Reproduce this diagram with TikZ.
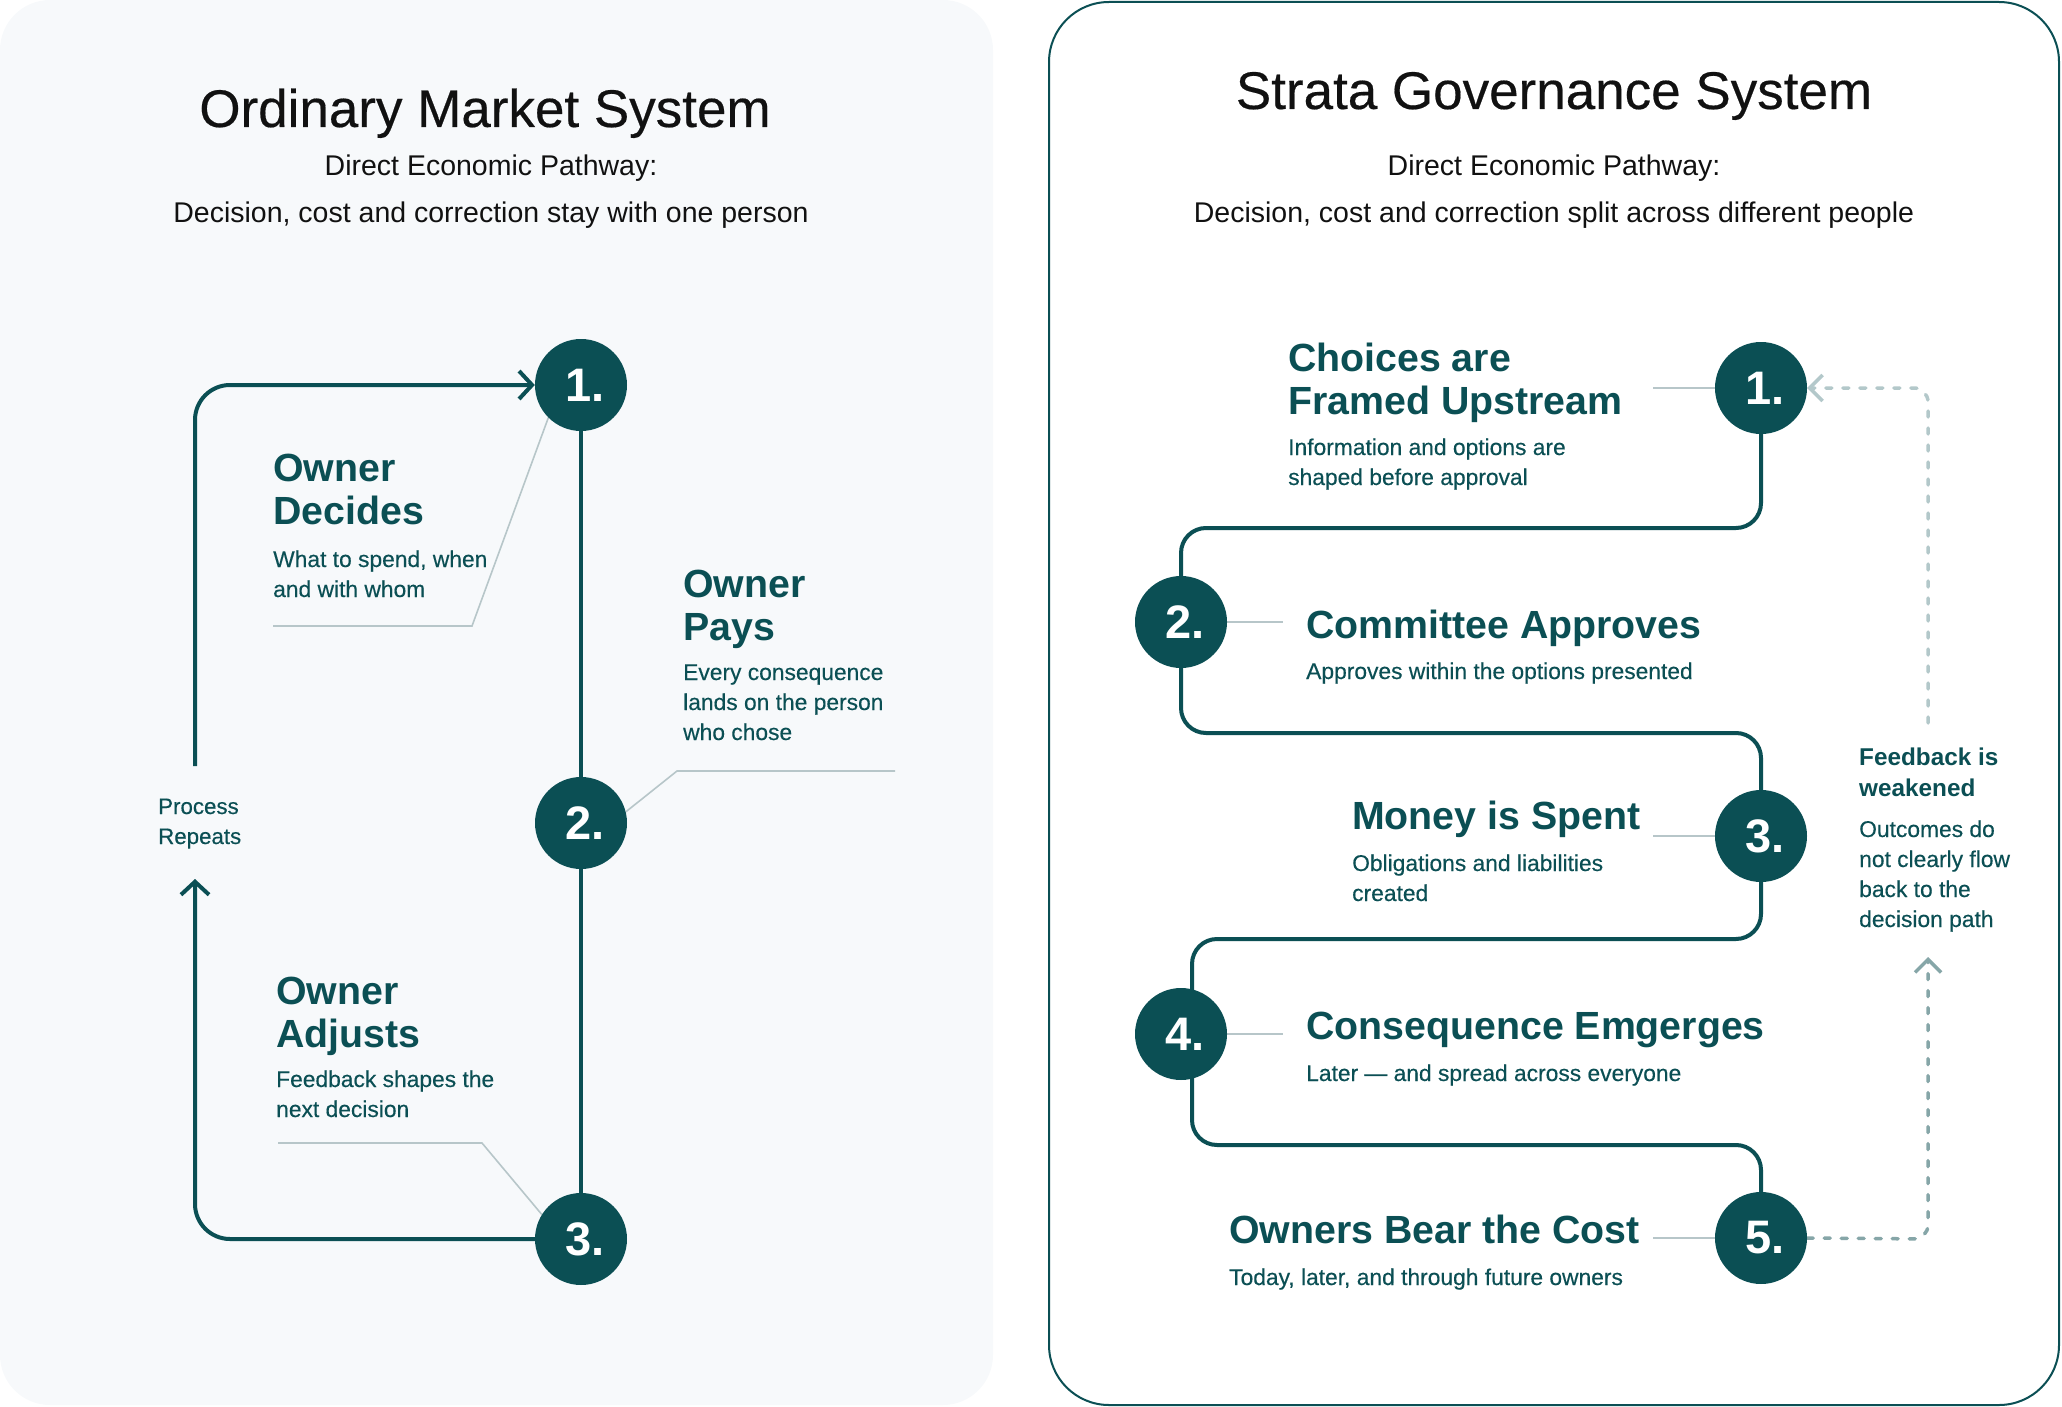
\documentclass[tikz,border=0pt]{standalone}
\usepackage{fontspec}
\setmainfont{Liberation Sans}
\newfontfamily\medfont[FakeBold=0.35]{Liberation Sans}
\usetikzlibrary{arrows.meta,calc}
\definecolor{tdark}{HTML}{0B4F54}
\definecolor{leadgray}{HTML}{B7C6C9}
\definecolor{dashlight}{HTML}{B3C8CA}
\definecolor{dashdark}{HTML}{86A6A8}
\definecolor{panelbg}{HTML}{F7F9FB}
\definecolor{titleblack}{HTML}{111111}
\pgfdeclarelayer{back}
\pgfdeclarelayer{lines}
\pgfsetlayers{back,lines,main}
\newcommand\mylines[1]{\parbox[t]{700pt}{\raggedright #1}}
\tikzset{
  num/.style={circle, fill=tdark, minimum size=92pt, inner sep=0pt, text=white,
    font=\fontsize{47}{47}\selectfont\bfseries},
  head/.style={anchor=base west, inner sep=0pt, text=tdark,
    font=\fontsize{39.3}{43}\selectfont\bfseries},
  body/.style={anchor=base west, inner sep=0pt, text=tdark,
    font=\medfont\fontsize{22.8}{30}\selectfont},
  fbhead/.style={anchor=base west, inner sep=0pt, text=tdark,
    font=\fontsize{24.3}{31}\selectfont\bfseries},
  titlef/.style={anchor=base, inner sep=0pt, text=titleblack,
    font=\medfont\fontsize{53}{60}\selectfont},
  subf/.style={anchor=base, inner sep=0pt, text=titleblack,
    font=\fontsize{28.5}{34}\selectfont},
  flow/.style={draw=tdark, line width=4pt},
  leader/.style={draw=leadgray, line width=1.6pt},
  arr/.style={-{Straight Barb[length=13pt,width=28pt]}},
  dashfb/.style={line width=3.5pt, dash pattern=on 6pt off 11pt, line cap=round,
    -{Straight Barb[length=13pt,width=26pt]}},
}
\newcommand\numtxt[1]{\hspace*{8pt}#1}
\begin{document}
\begin{tikzpicture}[x=1pt,y=-1pt]
\useasboundingbox (0,0) rectangle (2062,1407);
\begin{pgfonlayer}{back}
  \fill[panelbg, rounded corners=50pt] (0,0) rectangle (993,1405);
  \draw[tdark, line width=2pt, fill=white, rounded corners=60pt] (1049,2) rectangle (2059,1405);
\end{pgfonlayer}

% titles
\node[titlef] (tL) at (485,127) {Ordinary Market System};
\node[subf] (sL1) at (491,176) {Direct Economic Pathway:};
\node[subf] (sL2) at (491,223) {Decision, cost and correction stay with one person};
\node[titlef] (tR) at (1554,109) {Strata Governance System};
\node[subf] (sR1) at (1554,176) {Direct Economic Pathway:};
\node[subf] (sR2) at (1554,223) {Decision, cost and correction split across different people};

% left circles
\node[num] (c1) at (581,385) {\numtxt{1.}};
\node[num] (c2) at (581,823) {\numtxt{2.}};
\node[num] (c3) at (581,1239) {\numtxt{3.}};

% left texts
\node[head] (hDec) at (273,481) {\mylines{Owner\\Decides}};
\node[body] (bDec) at (273,567) {\mylines{What to spend, when\\and with whom}};
\node[head] (hPay) at (683,597) {\mylines{Owner\\Pays}};
\node[body] (bPay) at (683,680) {\mylines{Every consequence\\lands on the person\\who chose}};
\node[head] (hAdj) at (276,1004) {\mylines{Owner\\Adjusts}};
\node[body] (bAdj) at (276,1087) {\mylines{Feedback shapes the\\next decision}};
\node[body, font=\medfont\fontsize{22.3}{30}\selectfont] (proc) at (158,814) {\mylines{Process\\Repeats}};

% right circles
\node[num] (r1) at (1761,388) {\numtxt{1.}};
\node[num] (r2) at (1181,622) {\numtxt{2.}};
\node[num] (r3) at (1761,836) {\numtxt{3.}};
\node[num] (r4) at (1181,1034) {\numtxt{4.}};
\node[num] (r5) at (1761,1238) {\numtxt{5.}};

% right texts
\node[head] (hR1) at (1288,371) {\mylines{Choices are\\Framed Upstream}};
\node[body] (bR1) at (1288,455) {\mylines{Information and options are\\shaped before approval}};
\node[head] (hR2) at (1306,638) {Committee Approves};
\node[body] (bR2) at (1306,679) {Approves within the options presented};
\node[head] (hR3) at (1352,829) {Money is Spent};
\node[body] (bR3) at (1352,871) {\mylines{Obligations and liabilities\\created}};
\node[head] (hR4) at (1306,1039) {Consequence Emgerges};
\node[body] (bR4) at (1306,1081) {Later — and spread across everyone};
\node[head] (hR5) at (1229,1243) {Owners Bear the Cost};
\node[body] (bR5) at (1229,1285) {Today, later, and through future owners};
\node[fbhead] (hFB) at (1859,765) {\mylines{Feedback is\\weakened}};
\node[body] (bFB) at (1859,837) {\mylines{Outcomes do\\not clearly flow\\back to the\\decision path}};

% free-end coordinates
\coordinate (loopLow) at (195,879);
\coordinate (loopHigh) at (195,766);
\coordinate (ldDec) at (273,626);
\coordinate (ldPay) at (895,771);
\coordinate (ldAdj) at (278,1143);
\coordinate (ldR1) at (1653,388);
\coordinate (ldR2) at (1283,622);
\coordinate (ldR3) at (1653,836);
\coordinate (ldR4) at (1283,1034);
\coordinate (ldR5) at (1653,1238);
\coordinate (fbLow) at (1928,957);
\coordinate (fbHigh) at (1928,723);

\begin{pgfonlayer}{lines}
  % left flow
  \draw[flow] (c1) -- (c2);
  \draw[flow] (c2) -- (c3);
  \draw[flow, arr, rounded corners=35pt] (c3.west) -- (195,1239) -- (loopLow);
  \draw[flow, arr, rounded corners=35pt] (loopHigh) -- (195,385) -- (c1.west);
  % left leaders
  \draw[leader] (c1.south west) -- (472,626) -- (ldDec);
  \draw[leader] (c2.14) -- (677,771) -- (ldPay);
  \draw[leader] (c3.148) -- (482,1143) -- (ldAdj);
  % right flow
  \draw[flow, rounded corners=25pt] (r1.south) -- (1761,528) -- (1181,528) -- (r2.north);
  \draw[flow, rounded corners=25pt] (r2.south) -- (1181,733) -- (1761,733) -- (r3.north);
  \draw[flow, rounded corners=25pt] (r3.south) -- (1761,939) -- (1192,939) -- ([xshift=11pt]r4.center);
  \draw[flow, rounded corners=25pt] ([xshift=11pt]r4.center) -- (1192,1145) -- (1761,1145) -- (r5.north);
  % right leaders
  \draw[leader] (ldR1) -- (r1.west);
  \draw[leader] (r2.east) -- (ldR2);
  \draw[leader] (ldR3) -- (r3.west);
  \draw[leader] (r4.east) -- (ldR4);
  \draw[leader] (ldR5) -- (r5.west);
  % feedback dashed
  \draw[dashfb, draw=dashdark, rounded corners=14pt] (r5.east) -- (1928,1239) -- (fbLow);
  \draw[dashfb, draw=dashlight, rounded corners=14pt] (fbHigh) -- (1928,388) -- (r1.east);
\end{pgfonlayer}
\end{tikzpicture}
\end{document}
